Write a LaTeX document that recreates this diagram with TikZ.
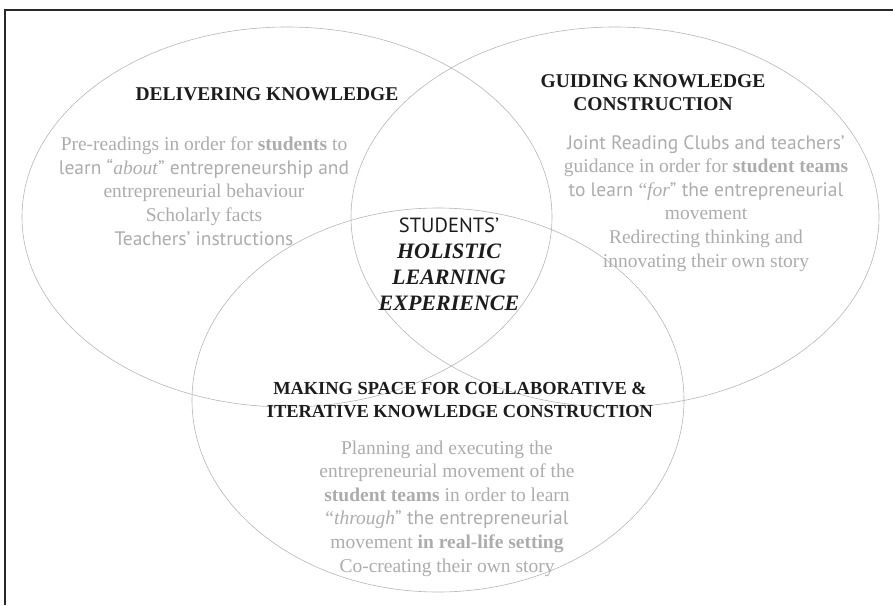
\documentclass[tikz,border=0pt]{standalone}
\usepackage{fontspec}
\setmainfont{Liberation Serif}
\newfontfamily\humsans{PT Sans}

\definecolor{ringgray}{RGB}{182,182,182}
\definecolor{bodygray}{RGB}{172,172,172}
\definecolor{headink}{RGB}{28,28,28}
\definecolor{frameink}{RGB}{40,40,40}

\tikzset{
  ring/.style={draw=ringgray, line width=0.6pt},
  heading/.style={font=\fontsize{19.5}{23}\selectfont\bfseries, text=headink,
    align=center, anchor=base, inner sep=0pt},
  body/.style={font=\fontsize{19.5}{23.6}\selectfont, text=bodygray,
    align=center, anchor=base, inner sep=0pt},
  core/.style={font=\fontsize{22}{26}\selectfont\bfseries\itshape, text=headink,
    align=center, anchor=base, inner sep=0pt},
}

\begin{document}
\begin{tikzpicture}[x=1pt,y=-1pt]
\useasboundingbox (0,0) rectangle (893,605);

% open frame, left and top edge only
\draw[frameink, line width=2pt] (5,605) -- (5,10) -- (893,10);

% the three circles of the model
\draw[ring] (287,217) ellipse [x radius=265, y radius=190];
\draw[ring] (615,217) ellipse [x radius=264, y radius=190];
\draw[ring] (438,400) ellipse [x radius=246, y radius=192];

% delivering (nodes sit on the baseline of their last line)
\node[heading] (deliverTitle) at (267,100.7) {DELIVERING KNOWLEDGE};
\node[body] (deliverText) at (204,245) {Pre-readings in order for \textbf{students} to\\
  {\humsans learn “}\textit{about}{\humsans ” entrepreneurship and}\\
  entrepreneurial behaviour\\
  Scholarly facts\\
  {\humsans Teachers’ instructions}};

% guiding
\node[heading] (guideTitle) at (653,110) {GUIDING KNOWLEDGE\\CONSTRUCTION};
\node[body] (guideText) at (706,267) {{\humsans Joint Reading Clubs and teachers’}\\
  guidance in order for \textbf{student teams}\\
  {\humsans to learn }“\textit{for}{\humsans ” the entrepreneurial}\\
  movement\\
  Redirecting thinking and\\
  innovating their own story};

% centre
\node[core] (centre) at (449,310) {{\humsans\mdseries\upshape\fontsize{20.5}{26}\selectfont STUDENTS’}\\
  HOLISTIC\\LEARNING\\EXPERIENCE};

% making space
\node[heading, font=\fontsize{18.4}{23}\selectfont\bfseries] (spaceTitle) at (460,417)
  {MAKING SPACE FOR COLLABORATIVE \&\\ITERATIVE KNOWLEDGE CONSTRUCTION};
\node[body] (spaceText) at (447,572) {Planning and executing the\\
  entrepreneurial movement of the\\
  \textbf{student teams} in order to learn\\
  “\textit{through}{\humsans ” the entrepreneurial}\\
  movement \textbf{in real-life setting}\\
  Co-creating their own story};
\end{tikzpicture}
\end{document}
